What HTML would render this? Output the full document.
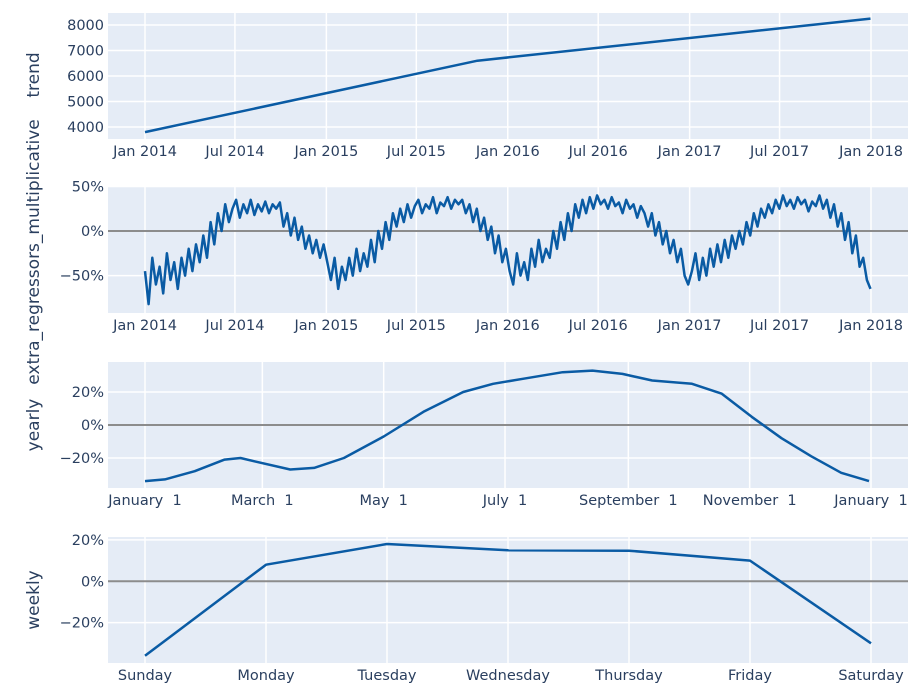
<!DOCTYPE html>
<html><head><meta charset="utf-8">
<style>
body{margin:0;background:#fff;}
svg{display:block;font-family:"DejaVu Sans","Liberation Sans",sans-serif;}
.tk{fill:#2a3f5f;font-size:14.5px;}
</style></head>
<body>
<svg id="c" width="919" height="693"></svg>
<script>
// ---- data ----
const trendDates = ["2014-01-01","2015-11-01","2017-12-31"];
const trendValues = [3800, 6600, 8250];
const trendTicks = [3000,4000,5000,6000,7000,8000];
const dateTickLabels = ["Jan 2014","Jul 2014","Jan 2015","Jul 2015","Jan 2016","Jul 2016","Jan 2017","Jul 2017","Jan 2018"];
const dateTicks = ["2014-01-01","2014-07-01","2015-01-01","2015-07-01","2016-01-01","2016-07-01","2017-01-01","2017-07-01","2018-01-01"];
const extraValues = [
-45,-82,-30,-60,-40,-70,-25,-55,-35,-65,-30,-50,
-20,-45,-15,-35,-5,-30,10,-15,20,0,30,10,25,
35,15,30,20,35,18,30,22,33,20,30,25,32,
5,20,-5,15,-10,5,-20,-5,-25,-10,-30,-15,
-35,-55,-30,-65,-40,-55,-30,-50,-20,-45,-25,-40,
-10,-35,0,-20,10,-10,20,5,25,10,30,15,28,
35,20,30,25,38,20,32,28,38,25,35,30,35,
20,30,10,25,0,15,-10,5,-25,-5,-35,-20,
-45,-60,-25,-50,-35,-55,-20,-40,-10,-35,-20,-30,
0,-20,10,-10,20,0,30,15,35,20,38,25,40,
30,35,25,38,28,32,20,35,25,30,15,28,20,
5,20,-5,10,-15,0,-25,-10,-35,-20,-50,-60,
-45,-25,-55,-30,-50,-20,-40,-15,-35,-10,-30,-5,
-20,0,-15,10,-5,20,5,25,15,30,20,35,25,
40,28,35,25,38,30,35,22,33,28,40,25,35,
15,30,5,20,-10,10,-25,-5,-40,-30,-55,-65];
const extraTicks = [-50,0,50];
const extraTickLabels = ["−50%","0%","50%"];
const yearlyDays = [0,10,25,40,48,55,73,85,100,120,140,160,175,190,210,225,240,255,275,290,305,320,335,350,364];
const yearlyValues = [-34,-33,-28,-21,-20,-22,-27,-26,-20,-7,8,20,25,28,32,33,31,27,25,19,5,-8,-19,-29,-34];
const yearlyTickLabels = ["January  1","March  1","May  1","July  1","September  1","November  1","January  1"];
const yearlyTickDays = [0,59,120,181,243,304,365];
const pctTicks = [-20,0,20];
const pctTickLabels = ["−20%","0%","20%"];
const weekDays = ["Sunday","Monday","Tuesday","Wednesday","Thursday","Friday","Saturday"];
const weeklyValues = [-36,8,18,15,14.8,10,-30];

// ---- helpers ----
const svg = document.getElementById('c');
const NS = "http://www.w3.org/2000/svg";
function mk(tag, attrs, parent){const e=document.createElementNS(NS,tag);for(const k in attrs)e.setAttribute(k,attrs[k]);(parent||svg).appendChild(e);return e;}
const X0=108, X1=908;
const t0=Date.parse("2014-01-01"), t1=Date.parse("2018-01-01");
const xDate = d => 145 + (Date.parse(d)-t0)/(t1-t0)*(871-145);
const xDay = d => 145 + d/365*(871-145);
const xWeek = i => 145 + i*(871-145)/6;
function yLin(top,bottom,vmin,vmax){return v => bottom - (v-vmin)/(vmax-vmin)*(bottom-top);}

function panel(name, top, bottom, yf, yTicks, yLabels, xTicks, xLabels, zero){
  const g = mk('g', {});
  
  
  const bg = mk('rect',{x:X0,y:top,width:X1-X0,height:bottom-top,fill:'#e5ecf6'},g);
  
  
  xTicks.forEach((x,i)=>{
    mk('line',{x1:x,x2:x,y1:top,y2:bottom,stroke:'#fff','stroke-width':1.5},g);
    const t = mk('text',{x:x,y:bottom+17,'text-anchor':'middle',class:'tk'},g);
    t.setAttribute('style','white-space:pre');
    t.textContent = xLabels[i];
    
    
  });
  yTicks.forEach((v,i)=>{
    const y = yf(v);
    if(y<top-1||y>bottom+1) return;
    if(!(zero && v===0)) mk('line',{x1:X0,x2:X1,y1:y,y2:y,stroke:'#fff','stroke-width':1.5},g);
    const t = mk('text',{x:X0-4,y:y+5,'text-anchor':'end',class:'tk'},g);
    t.textContent = yLabels[i];
    
    
  });
  if(zero){
    const z=yf(0);
    const zl = mk('line',{x1:X0,x2:X1,y1:z,y2:z,stroke:'#8c8c8c','stroke-width':2},g);
    
    
  }
  return g;
}
function series(name, pts, w){
  const p = mk('polyline',{points:pts.map(p=>p[0].toFixed(1)+','+p[1].toFixed(1)).join(' '),fill:'none',stroke:'#0a5ba4','stroke-width':w,'stroke-linejoin':'round'});
  
  
}

const y1 = yLin(13,139,3530,8470);
panel('trend',13,139,y1,trendTicks,trendTicks.map(String),dateTicks.map(xDate),dateTickLabels,false);
series('trend-line', trendDates.map((d,i)=>[xDate(d), y1(trendValues[i])]), 2.5);

const y2 = yLin(187,313,-92,49.4);
panel('extra-regressors',187,313,y2,extraTicks,extraTickLabels,dateTicks.map(xDate),dateTickLabels,true);
const tEnd = Date.parse("2017-12-31");
series('extra-regressors-line', extraValues.map((v,i)=>[145+((tEnd-t0)*i/(extraValues.length-1))/(t1-t0)*(871-145), y2(v)]), 2.5);

const y3 = yLin(362,488,-38.2,38.2);
panel('yearly',362,488,y3,pctTicks,pctTickLabels,yearlyTickDays.map(xDay),yearlyTickLabels,true);
series('yearly-line', yearlyDays.map((d,i)=>[xDay(d), y3(yearlyValues[i])]), 2.5);

const y4 = yLin(537,663,-39.5,21.4);
panel('weekly',537,663,y4,pctTicks,pctTickLabels,weekDays.map((d,i)=>xWeek(i)),weekDays,true);
series('weekly-line', weeklyValues.map((v,i)=>[xWeek(i), y4(v)]), 2.5);

[['trend',75,'trend-axis-title'],['extra_regressors_multiplicative',252,'extra-regressors-axis-title'],['yearly',425,'yearly-axis-title'],['weekly',600,'weekly-axis-title']].forEach(a=>{
  const t = mk('text',{x:0,y:0,transform:`translate(39,${a[1]}) rotate(-90)`,'text-anchor':'middle',fill:'#2a3f5f','font-size':'17px'});
  t.textContent = a[0];
  
  
});
</script>
</body></html>
